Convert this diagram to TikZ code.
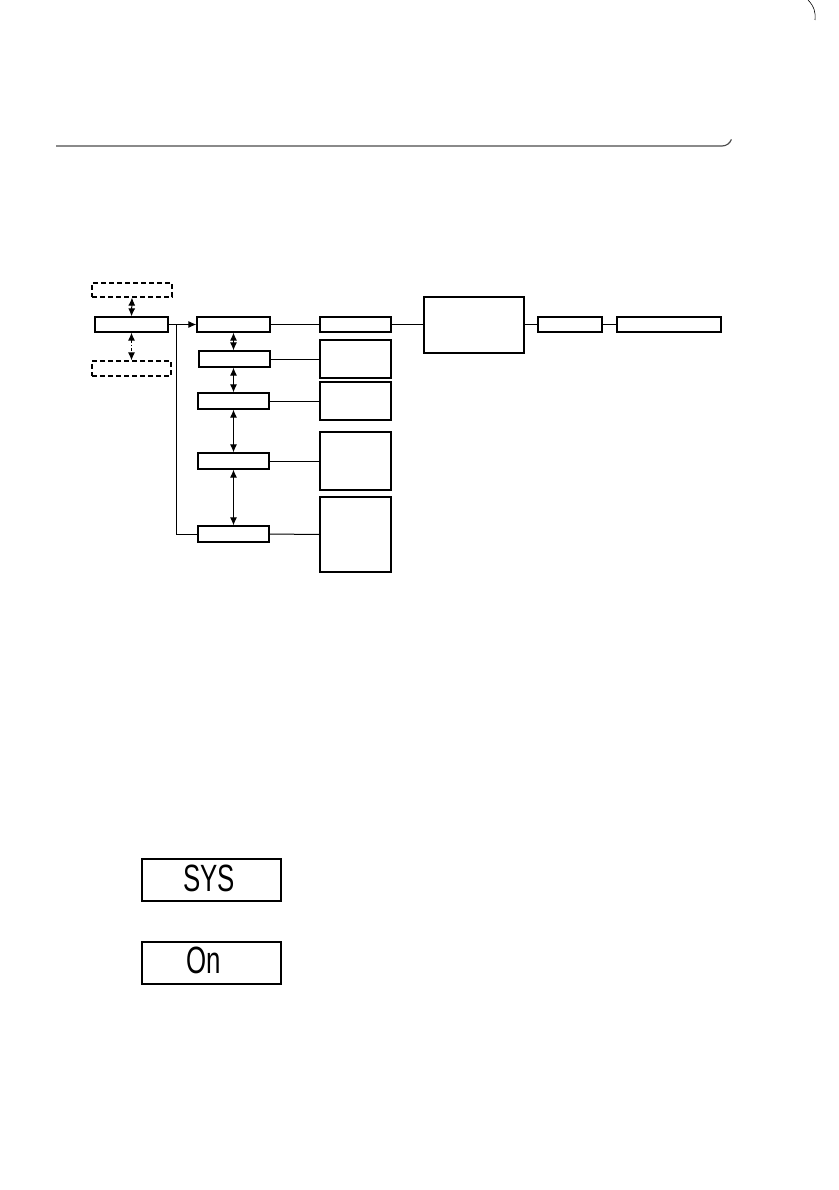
\documentclass[tikz,border=0pt]{standalone}
\usepackage{fontspec}
\usepackage{graphicx}
\setmainfont{Liberation Sans}
\usetikzlibrary{arrows.meta}
\tikzset{
  box/.style={draw=black, line width=1.3pt, inner sep=0pt, rectangle},
  dbox/.style={box, dash pattern=on 5pt off 3pt},
  conn/.style={draw=black, line width=1pt},
  tip/.tip={Latex[length=8pt,width=7pt]},
  dbl/.style={conn, tip-tip},
  disp/.style={draw=black, line width=1.4pt, inner sep=0pt, minimum width=139pt, minimum height=42pt},
  seg/.style={font=\fontsize{38}{38}\selectfont, inner sep=0pt}
}
\begin{document}
\begin{tikzpicture}[x=1pt,y=-1pt]
\useasboundingbox (0,0) rectangle (838,1190);
% header rule
\draw[line width=1.2pt, draw=black!70] (56,146) -- (722,146) arc[start angle=90, end angle=20, radius=10];
\draw[line width=0.6pt] (808,0) .. controls (814,6) and (816,13) .. (815,20);
% left column
\node (dt) [dbox, minimum width=80, minimum height=14] at (132,290) {};
\node (a)  [box,  minimum width=73, minimum height=15] at (131.5,324.5) {};
\node (db) [dbox, minimum width=79, minimum height=15] at (131.5,368.5) {};
% middle column
\node (b1) [box, minimum width=73, minimum height=15] at (233.5,324.5) {};
\node (b2) [box, minimum width=71, minimum height=16] at (234.5,359) {};
\node (b3) [box, minimum width=71, minimum height=16] at (233.5,401) {};
\node (b4) [box, minimum width=71, minimum height=16] at (233.5,461) {};
\node (b5) [box, minimum width=71, minimum height=16] at (233.5,534) {};
% right column
\node (c1) [box, minimum width=71, minimum height=15] at (355.5,324.5) {};
\node (c2) [box, minimum width=71, minimum height=38] at (355.5,359) {};
\node (c3) [box, minimum width=71, minimum height=38] at (355.5,401) {};
\node (c4) [box, minimum width=71, minimum height=58] at (355.5,461) {};
\node (c5) [box, minimum width=71, minimum height=75] at (355.5,534.5) {};
% far right
\node (d) [box, minimum width=100, minimum height=56] at (474,325) {};
\node (e) [box, minimum width=64, minimum height=15] at (570,324.5) {};
\node (f) [box, minimum width=104, minimum height=15] at (669,324.5) {};
% connectors
\draw[dbl] (dt.south) -- (a.north);
\draw[conn, dash pattern=on 3pt off 2pt on 1pt off 2pt, tip-tip] (a.south) -- (db.north);
\coordinate (j) at (176,324.5);
\draw[conn] (a.east) -- (j);
\draw[conn, -tip] (j) -- (b1.west);
\draw[conn] (j) |- (b5.west);
\draw[dbl] (b1.south) -- (b1.south |- b2.north);
\draw[dbl] (b2.south -| b1.south) -- (b3.north);
\draw[dbl] (b3.south) -- (b4.north);
\draw[dbl] (b4.south) -- (b5.north);
\draw[conn] (b1.east) -- (c1.west);
\draw[conn] (b2.east) -- (c2.west);
\draw[conn] (b3.east) -- (c3.west);
\draw[conn] (b4.east) -- (c4.west);
\draw[conn] (b5.east) -- (c5.west);
\draw[conn] (c1.east) -- (c1.east -| d.west);
\draw[conn] (d.east |- e.west) -- (e.west);
\draw[conn] (e.east) -- (f.west);
% displays
\node (sys) [disp] at (211.5,880) {};
\node (syst) [seg] at (209,878) {\scalebox{0.68}[1]{SYS}};
\node (on) [disp] at (211.5,963) {};
\node (ont) [seg] at (204,960.5) {\scalebox{0.68}[1]{On}};
\end{tikzpicture}
\end{document}
